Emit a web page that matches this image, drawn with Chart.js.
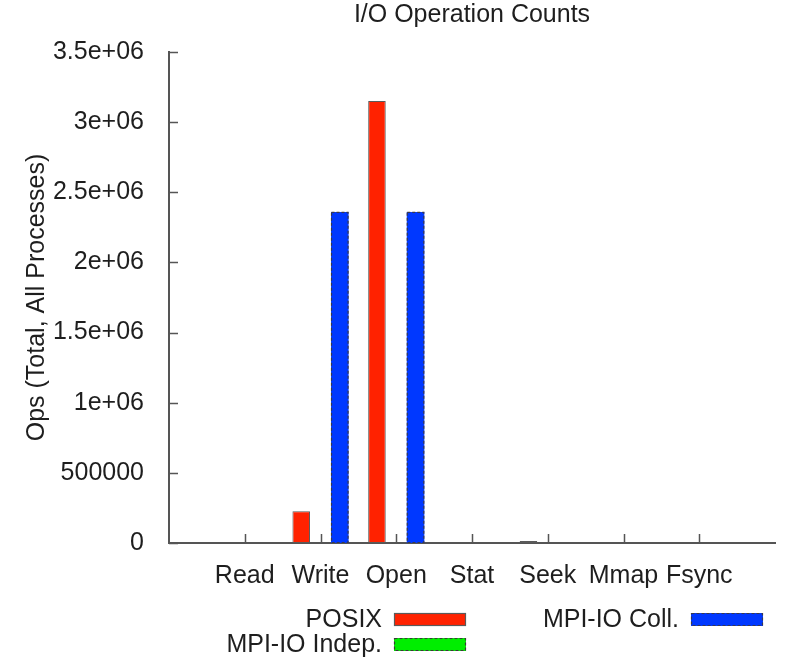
<!DOCTYPE html>
<html>
<head>
<meta charset="utf-8">
<title>I/O Operation Counts</title>
<script src="https://cdn.jsdelivr.net/npm/chart.js@4/dist/chart.umd.min.js"></script>
<style>
  html, body { margin: 0; padding: 0; background: #ffffff; }
  #wrap { width: 785px; height: 659px; }
</style>
</head>
<body>
<div id="wrap"><canvas id="c" width="785" height="659"></canvas></div>
<script>
// Operation categories along the x axis
const categories = ['Read', 'Write', 'Open', 'Stat', 'Seek', 'Mmap', 'Fsync'];

// Total operation counts (all processes) per interface
const posixOps      = [0, 226000, 3150000, 0, 14000, 0, 0];
const mpiioIndepOps = [0, 0, 0, 0, 0, 0, 0];
const mpiioCollOps  = [0, 2360000, 2360000, 0, 0, 0, 0];

// Y axis tick values and their printed form
const yTickValues = [0, 500000, 1000000, 1500000, 2000000, 2500000, 3000000, 3500000];
const yTickLabels = ['0', '500000', '1e+06', '1.5e+06', '2e+06', '2.5e+06', '3e+06', '3.5e+06'];

// One empty slot on each side of the categories, so the axis runs one step past them
const xLabels = [''].concat(categories, ['']);
const pad = arr => [null].concat(arr, [null]);

const FONT = '"Liberation Sans", Arial, Helvetica, sans-serif';
const FSIZE = 25;
const TEXT = '#1e1e1e';
const AXIS = '#555555';

Chart.defaults.font.family = FONT;
Chart.defaults.font.size = FSIZE;
Chart.defaults.color = TEXT;

// Inward tick marks, dashed bar outlines and a gnuplot-style key
const decor = {
  id: 'decor',
  afterDatasetsDraw(chart) {
    const ctx = chart.ctx;
    chart.data.datasets.forEach((ds, i) => {
      if (!ds.dashOutline) return;
      const meta = chart.getDatasetMeta(i);
      ctx.save();
      ctx.strokeStyle = ds.dashOutline;
      ctx.lineWidth = 1.2;
      ctx.setLineDash([3, 2]);
      meta.data.forEach(el => {
        const p = el.getProps(['x', 'y', 'base', 'width'], true);
        if (p.y == null || isNaN(p.y) || Math.abs(p.base - p.y) < 0.5) return;
        ctx.strokeRect(p.x - p.width / 2 + 0.5, Math.min(p.y, p.base) + 0.5,
                       p.width - 1, Math.abs(p.base - p.y) - 1);
      });
      ctx.restore();
    });
  },
  afterDraw(chart) {
    const ctx = chart.ctx;
    const area = chart.chartArea;
    const xs = chart.scales.x, ys = chart.scales.y;
    ctx.save();
    ctx.strokeStyle = AXIS;
    ctx.lineWidth = 1.5;
    ctx.beginPath();
    ys.ticks.forEach((t, i) => {
      const py = Math.round(ys.getPixelForTick(i)) + 0.5;
      ctx.moveTo(area.left, py);
      ctx.lineTo(area.left + 9, py);
    });
    xs.ticks.forEach((t, i) => {
      if (!xLabels[i]) return;
      const px = Math.round(xs.getPixelForTick(i)) + 0.5;
      ctx.moveTo(px, area.bottom);
      ctx.lineTo(px, area.bottom - 9);
    });
    ctx.stroke();

    // key: text right-aligned, sample box to its right
    const key = [
      { ds: 0, textRight: 382, boxLeft: 394, midY: 619.5 },
      { ds: 1, textRight: 382, boxLeft: 394, midY: 644.5 },
      { ds: 2, textRight: 679, boxLeft: 691, midY: 619.5 }
    ];
    ctx.font = FSIZE + 'px ' + FONT;
    ctx.textAlign = 'right';
    ctx.textBaseline = 'middle';
    key.forEach(k => {
      const ds = chart.data.datasets[k.ds];
      ctx.fillStyle = TEXT;
      ctx.fillText(ds.label, k.textRight, k.midY + 1);
      ctx.fillStyle = ds.backgroundColor;
      ctx.fillRect(k.boxLeft, k.midY - 6.5, 72, 13);
      ctx.lineWidth = 1.2;
      if (ds.dashOutline) {
        ctx.strokeStyle = ds.dashOutline;
        ctx.setLineDash([3, 2]);
      } else {
        ctx.strokeStyle = ds.borderColor;
        ctx.setLineDash([]);
      }
      ctx.strokeRect(k.boxLeft + 0.5, k.midY - 6, 71, 12);
    });
    ctx.restore();
  }
};

new Chart(document.getElementById('c'), {
  type: 'bar',
  data: {
    labels: xLabels,
    datasets: [
      {
        label: 'POSIX',
        data: pad(posixOps),
        backgroundColor: '#ff2200',
        borderColor: '#5a5a5a',
        borderWidth: 1,
        borderSkipped: false
      },
      {
        label: 'MPI-IO Indep.',
        data: pad(mpiioIndepOps),
        backgroundColor: '#00ee00',
        borderWidth: 0,
        dashOutline: '#3a3a3a'
      },
      {
        label: 'MPI-IO Coll.',
        data: pad(mpiioCollOps),
        backgroundColor: '#0038ff',
        borderWidth: 0,
        dashOutline: '#3a3a4a'
      }
    ]
  },
  options: {
    responsive: false,
    animation: false,
    devicePixelRatio: 1,
    layout: { padding: { left: 0, right: 3, top: 0, bottom: 0 } },
    categoryPercentage: 0.764,
    barPercentage: 0.91,
    plugins: {
      legend: { display: false },
      tooltip: { enabled: false },
      title: {
        display: true,
        text: 'I/O Operation Counts',
        fullSize: false,
        color: TEXT,
        font: { size: FSIZE, weight: 'normal', family: FONT },
        padding: { top: 0, bottom: 22 }
      }
    },
    scales: {
      x: {
        offset: false,
        grid: { display: false },
        border: { display: true, color: AXIS, width: 2 },
        ticks: {
          autoSkip: false,
          maxRotation: 0,
          minRotation: 0,
          padding: 10,
          color: TEXT,
          font: { size: FSIZE }
        },
        afterFit(scale) { scale.height = 116; }
      },
      y: {
        min: 0,
        max: 3500000,
        grid: { display: false },
        border: { display: true, color: AXIS, width: 2 },
        ticks: {
          stepSize: 500000,
          padding: 17,
          color: TEXT,
          font: { size: FSIZE },
          callback(v) {
            const i = yTickValues.indexOf(v);
            return i >= 0 ? yTickLabels[i] : '';
          }
        },
        title: {
          display: true,
          text: 'Ops (Total, All Processes)',
          color: TEXT,
          font: { size: FSIZE },
          padding: { top: 22, bottom: 0 }
        },
        afterFit(scale) { scale.width = 169; }
      }
    }
  },
  plugins: [decor]
});
</script>
</body>
</html>
